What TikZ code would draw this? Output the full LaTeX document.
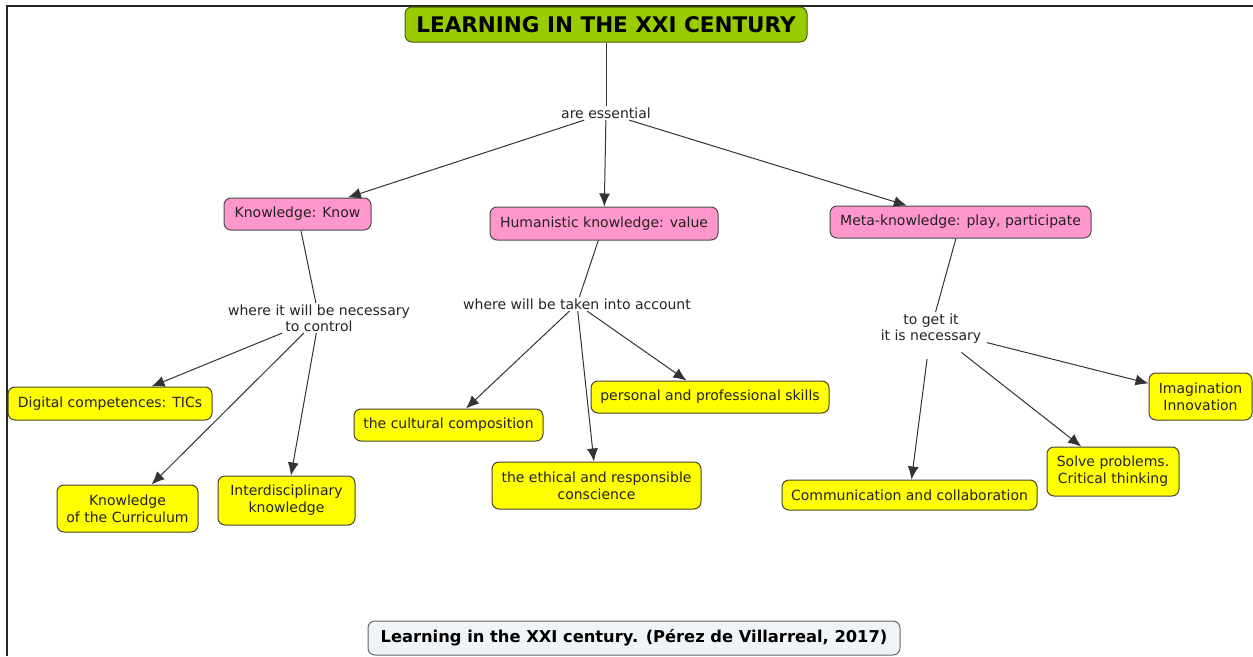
\documentclass[tikz,border=0pt]{standalone}
\usepackage{fontspec}
\setmainfont{DejaVu Sans}
\usetikzlibrary{arrows.meta}
\definecolor{titlegreen}{RGB}{153,204,0}
\definecolor{titleborder}{RGB}{70,95,10}
\definecolor{conpink}{RGB}{255,150,204}
\definecolor{conyellow}{RGB}{255,255,0}
\definecolor{refbg}{RGB}{240,244,247}
\definecolor{txt}{RGB}{35,35,35}
\tikzset{
  box/.style={draw=black!70, line width=1pt, rounded corners=7pt, inner sep=0pt, align=center, text=txt, font=\fontsize{14}{17}\selectfont},
  titlebox/.style={box, fill=titlegreen, draw=titleborder, text=black, font=\fontsize{21.5}{24}\selectfont\bfseries},
  pinkbox/.style={box, fill=conpink},
  yelbox/.style={box, fill=conyellow, draw=black!65!olive},
  refbox/.style={box, fill=refbg, draw=black!60, text=black, font=\fontsize{16.3}{19}\selectfont\bfseries},
  linkph/.style={inner sep=1.5pt, align=center, text=txt, font=\fontsize{14}{16}\selectfont},
  conn/.style={draw=black!80, line width=1pt},
  arr/.style={conn, -{Latex[length=13pt,width=11pt]}}
}
\begin{document}
\begin{tikzpicture}[x=1pt,y=-1pt]
\useasboundingbox (0,0) rectangle (1253,656);
\draw[line width=2pt, black!85] (6.5,656) -- (6.5,5.5) -- (1253,5.5);

\node[titlebox, minimum width=402pt, minimum height=35pt] (title) at (606,24.5) {LEARNING IN THE XXI CENTURY};
\node[linkph] (ess) at (606,113) {are essential};

\node[pinkbox, minimum width=147pt, minimum height=32pt] (know) at (297.5,214) {Knowledge: Know};
\node[pinkbox, minimum width=228pt, minimum height=33pt] (hum) at (604,223.5) {Humanistic knowledge: value};
\node[pinkbox, minimum width=261pt, minimum height=32pt] (meta) at (960.5,222) {Meta-knowledge: play, participate};

\node[linkph] (lk) at (319,318) {where it will be necessary\\to control};
\node[linkph] (lh) at (577,304) {where will be taken into account};
\node[linkph] (lm) at (931,328.5) {to get it\\it is necessary};

\node[yelbox, minimum width=204pt, minimum height=33pt] (dig) at (110,403.5) {Digital competences: TICs};
\node[yelbox, minimum width=141pt, minimum height=47pt] (cur) at (127.5,508.5) {Knowledge\\of the Curriculum};
\node[yelbox, minimum width=137pt, minimum height=49pt] (int) at (286.5,500.5) {Interdisciplinary\\knowledge};
\node[yelbox, minimum width=189pt, minimum height=32pt] (cul) at (448.5,425) {the cultural composition};
\node[yelbox, minimum width=209pt, minimum height=47pt] (eth) at (596.5,485.5) {the ethical and responsible\\conscience};
\node[yelbox, minimum width=238pt, minimum height=32pt] (per) at (710,397) {personal and professional skills};
\node[yelbox, minimum width=255pt, minimum height=30pt] (com) at (909.5,495) {Communication and collaboration};
\node[yelbox, minimum width=132pt, minimum height=49pt] (sol) at (1113,471.5) {Solve problems.\\Critical thinking};
\node[yelbox, minimum width=103pt, minimum height=47pt] (ima) at (1200.5,396.5) {Imagination\\Innovation};

\node[refbox, minimum width=532pt, minimum height=34pt] (ref) at (634,638) {Learning in the XXI century. (Pérez de Villarreal, 2017)};

\draw[conn] (title) -- (ess);
\draw[arr] (ess) -- (know);
\draw[arr] (ess) -- (hum);
\draw[arr] (ess) -- (meta);

\draw[conn] (know) -- (lk);
\draw[arr] (lk) -- (dig);
\draw[arr] (lk) -- (cur);
\draw[arr] (lk) -- (int);

\draw[conn] (hum) -- (lh);
\draw[arr] (lh) -- (cul);
\draw[arr] (lh) -- (eth);
\draw[arr] (lh) -- (per);

\draw[conn] (meta) -- (lm);
\draw[arr, shorten <=4pt] (lm) -- (ima);
\draw[arr, shorten <=14pt] (lm) -- (com);
\draw[arr, shorten <=12pt] (lm) -- (sol);
\end{tikzpicture}
\end{document}
